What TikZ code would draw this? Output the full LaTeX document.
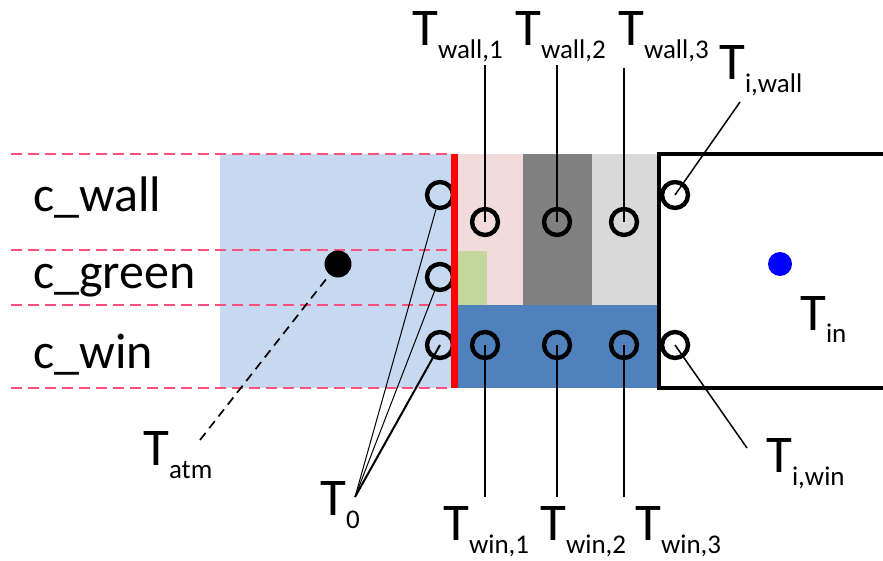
\documentclass[tikz,border=0pt]{standalone}
\usepackage{fontspec}
\setmainfont{Carlito}
\definecolor{airblue}{HTML}{C6D9F0}
\definecolor{wallpink}{HTML}{F2DCDB}
\definecolor{greenlayer}{HTML}{C3D69B}
\definecolor{darklayer}{HTML}{808080}
\definecolor{lightlayer}{HTML}{D9D9D9}
\definecolor{winblue}{HTML}{4F81BD}
\definecolor{dashpink}{HTML}{FF4F7B}
\newcommand\tlabel[1]{{\fontsize{53}{53}\selectfont T}\raisebox{-13pt}{\fontsize{27}{27}\selectfont #1}}
\begin{document}
\begin{tikzpicture}[x=1pt,y=-1pt,
  sensor/.style={circle,draw=black,line width=4.4pt,minimum size=26pt,inner sep=0pt},
  lbl/.style={anchor=base west,inner sep=0pt},
  clbl/.style={anchor=base west,inner sep=0pt,font=\fontsize{50}{50}\selectfont},
  leader/.style={line width=1.8pt},
  thinleader/.style={line width=1pt},
  layerline/.style={dashpink,line width=1.7pt,dash pattern=on 11pt off 6pt}]
\useasboundingbox (0,0) rectangle (883,561);
% regions
\fill[airblue] (220,154) rectangle (452,388);
\fill[wallpink] (458,154) rectangle (523,305);
\fill[greenlayer] (458,251) rectangle (487,305);
\fill[darklayer] (523,154) rectangle (592,305);
\fill[lightlayer] (592,154) rectangle (659,305);
\fill[winblue] (458,305) rectangle (659,388);
% layer lines
\foreach \yy in {154,250,305,388} \draw[layerline] (11,\yy) -- (452,\yy);
% room box
\draw[line width=4pt] (883,154) -- (659,154) -- (659,388) -- (883,388);
% sensors
\node[sensor] (s0wall) at (440,195) {};
\node[sensor] (s0green) at (440,277) {};
\node[sensor] (s0win) at (440,345) {};
\node[sensor] (sw1) at (485,222) {};
\node[sensor] (sw2) at (557,222) {};
\node[sensor] (sw3) at (624,222) {};
\node[sensor] (sn1) at (485,345) {};
\node[sensor] (sn2) at (557,345) {};
\node[sensor] (sn3) at (624,345) {};
\node[sensor] (siwall) at (675,195) {};
\node[sensor] (siwin) at (675,345) {};
% red boundary
\fill[red] (451,154) rectangle (458,388);
% dots
\node[circle,fill=black,minimum size=27pt,inner sep=0pt] (atm) at (338,264) {};
\node[circle,fill=blue,minimum size=24pt,inner sep=0pt] (tin) at (780,264) {};
% left labels
\node[clbl] (lwall) at (33,212) {c\_wall};
\node[clbl] (lgreen) at (33,288) {c\_green};
\node[clbl] (lwin) at (33,368) {c\_win};
% T labels
\node[lbl] (Lw1) at (412,46) {\tlabel{wall,1}};
\node[lbl] (Lw2) at (515,46) {\tlabel{wall,2}};
\node[lbl] (Lw3) at (618,46) {\tlabel{wall,3}};
\node[lbl] (Liw) at (719,80) {\tlabel{i,wall}};
\node[lbl] (Lin) at (800,330) {\tlabel{in}};
\node[lbl] (Liwin) at (766,472) {\tlabel{i,win}};
\node[lbl] (Latm) at (143,465) {\tlabel{atm}};
\node[lbl] (L0) at (320,515) {\tlabel{0}};
\node[lbl] (Ln1) at (443,540) {\tlabel{win,1}};
\node[lbl] (Ln2) at (540,540) {\tlabel{win,2}};
\node[lbl] (Ln3) at (635,540) {\tlabel{win,3}};
% leader ends
\coordinate (cw1) at (485,65);
\coordinate (cw2) at (557,65);
\coordinate (cw3) at (624,68);
\coordinate (ciw) at (740,102);
\coordinate (cn1) at (485,497);
\coordinate (cn2) at (557,497);
\coordinate (cn3) at (624,497);
\coordinate (ciwin) at (747,448);
\coordinate (c0) at (355,497);
\coordinate (catm) at (200,440);
% leaders
\draw[leader] (cw1) -- (sw1.center);
\draw[leader] (cw2) -- (sw2.center);
\draw[leader] (cw3) -- (sw3.center);
\draw[leader] (cn1) -- (sn1.center);
\draw[leader] (cn2) -- (sn2.center);
\draw[leader] (cn3) -- (sn3.center);
\draw[line width=1.5pt] (ciw) -- (siwall.center);
\draw[line width=1.5pt] (ciwin) -- (siwin.center);
\draw[thinleader] (c0) -- (s0wall);
\draw[thinleader] (c0) -- (s0green);
\draw[line width=2pt] (c0) -- (s0win.center);
\draw[line width=1.7pt,dash pattern=on 9pt off 6pt] (catm) -- (atm);
\end{tikzpicture}
\end{document}
